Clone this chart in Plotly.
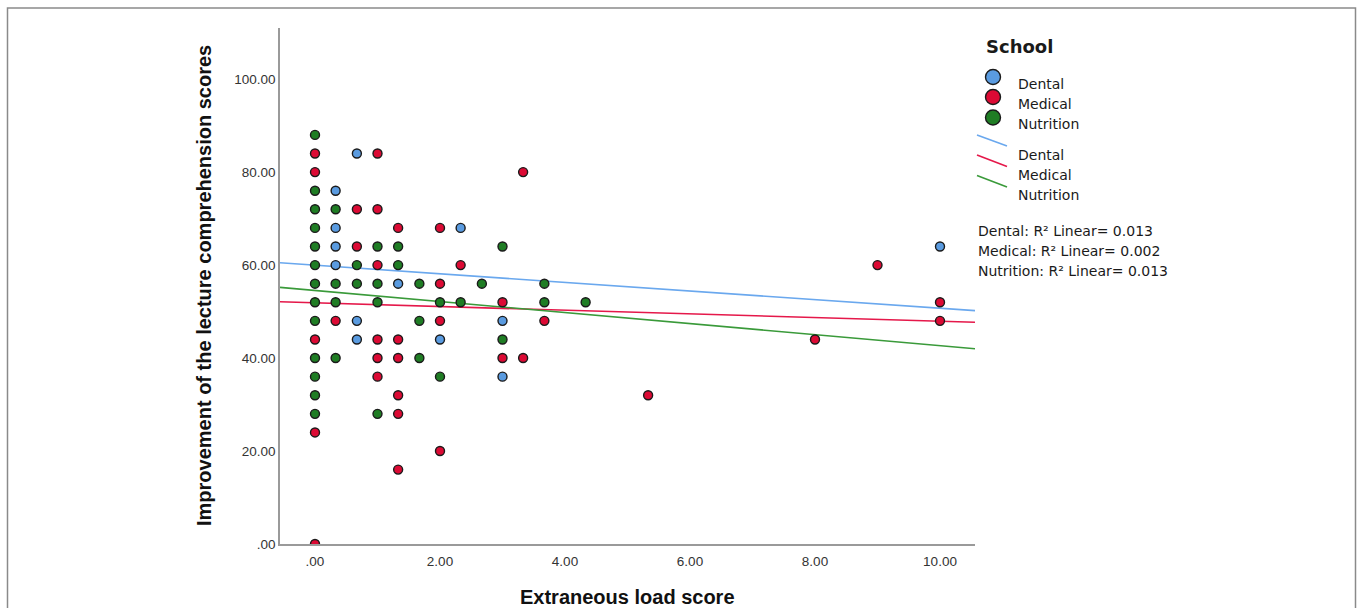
import plotly.graph_objects as go

# ---------------- data ----------------
dental_x = [0.67, 0.33, 0.33, 2.33, 0.33, 0.33, 1.33, 0.67, 3.0, 0.67, 2.0, 3.0, 10.0]
dental_y = [84, 76, 68, 68, 64, 60, 56, 48, 48, 44, 44, 36, 64]

medical_x = [0, 1, 0, 3.33, 0.67, 1, 1.33, 2, 0.67, 1, 2.33, 2, 3, 10, 0.33, 2, 3.67, 10,
             0, 1, 1.33, 8, 1, 1.33, 3, 3.33, 1, 1.33, 5.33, 1.33, 0, 2, 1.33, 0, 9]
medical_y = [84, 84, 80, 80, 72, 72, 68, 68, 64, 60, 60, 56, 52, 52, 48, 48, 48, 48,
             44, 44, 44, 44, 40, 40, 40, 40, 36, 32, 32, 28, 24, 20, 16, 0, 60]

nutrition_x = [0, 0, 0, 0.33, 0, 0, 1, 1.33, 3, 0, 0.67, 1.33, 0, 0.33, 0.67, 1, 1.67, 2.67,
               3.67, 0, 0.33, 1, 2, 2.33, 3.67, 4.33, 0, 1.67, 3, 0, 0.33, 1.67, 0, 2, 0, 0, 1]
nutrition_y = [88, 76, 72, 72, 68, 64, 64, 64, 64, 60, 60, 60, 56, 56, 56, 56, 56, 56,
               56, 52, 52, 52, 52, 52, 52, 52, 48, 48, 44, 40, 40, 40, 36, 36, 32, 28, 28]

# fit lines (values read at the two ends of the x axis)
fit_x = [-0.56, 10.56]
dental_fit = [60.5, 50.2]
medical_fit = [52.1, 47.7]
nutrition_fit = [55.2, 42.0]

schools = ["Dental", "Medical", "Nutrition"]
r2_values = ["0.013", "0.002", "0.013"]

x_ticks = [0, 2, 4, 6, 8, 10]
x_tick_labels = [".00", "2.00", "4.00", "6.00", "8.00", "10.00"]
y_ticks = [0, 20, 40, 60, 80, 100]
y_tick_labels = [".00", "20.00", "40.00", "60.00", "80.00", "100.00"]

# ---------------- style ----------------
point_colors = {"Dental": "#5A9BE0", "Medical": "#DC0A34", "Nutrition": "#1F7D24"}
line_colors = {"Dental": "#6AA8EE", "Medical": "#E5184A", "Nutrition": "#3A9A3A"}
W, H = 1358, 608
L, R, T, B = 280, 975, 28, 544  # plot area in pixels


def px(xp):
    return (xp - L) / (R - L)


def py(yp):
    return (B - yp) / (B - T)


fig = go.Figure()
pts = {"Dental": (dental_x, dental_y), "Medical": (medical_x, medical_y),
       "Nutrition": (nutrition_x, nutrition_y)}
fits = {"Dental": dental_fit, "Medical": medical_fit, "Nutrition": nutrition_fit}

for s in schools:
    fig.add_trace(go.Scatter(x=fit_x, y=fits[s], mode="lines",
                             line=dict(color=line_colors[s], width=1.6),
                             showlegend=False, hoverinfo="skip"))
for s in schools:
    xs, ys = pts[s]
    fig.add_trace(go.Scatter(x=xs, y=ys, mode="markers", name=s,
                             marker=dict(size=9, color=point_colors[s],
                                         line=dict(color="#1a1a1a", width=1.4)),
                             showlegend=False))

axis_font = dict(family="Liberation Sans, Arial, sans-serif", size=13.5, color="#333333")
fig.update_xaxes(range=fit_x, tickvals=x_ticks, ticktext=x_tick_labels,
                 showgrid=False, zeroline=False, showline=True, linecolor="#9a9a9a",
                 linewidth=1.6, ticks="outside", ticklen=4, tickcolor="rgba(0,0,0,0)",
                 tickfont=axis_font)
fig.update_yaxes(range=[0, 111], tickvals=y_ticks, ticktext=y_tick_labels,
                 showgrid=False, zeroline=False, showline=True, linecolor="#9a9a9a",
                 linewidth=1.6, ticks="", tickfont=axis_font)

shapes = []
annotations = []
legend_family = "DejaVu Sans, Verdana, sans-serif"
legend_font = dict(family=legend_family, size=14, color="#1a1a1a")

# outer frame
shapes.append(dict(type="rect", xref="paper", yref="paper",
                   x0=px(7.5), x1=px(1355.5), y0=py(640), y1=py(8),
                   line=dict(color="#8a8a8a", width=1.5), fillcolor="rgba(0,0,0,0)",
                   layer="below"))

# legend title
annotations.append(dict(text="<b>School</b>", xref="paper", yref="paper",
                        x=px(984), y=py(47), xanchor="left", yanchor="middle",
                        showarrow=False,
                        font=dict(family=legend_family, size=18, color="#1a1a1a")))
marker_rows = [77, 97, 117.5]
label_rows1 = [84, 104, 124]
line_rows = [(135, 146), (155, 166.5), (175.5, 187)]
label_rows2 = [155, 175, 195]
for i, s in enumerate(schools):
    shapes.append(dict(type="circle", xref="paper", yref="paper",
                       xsizemode="pixel", ysizemode="pixel",
                       xanchor=px(993), yanchor=py(marker_rows[i]),
                       x0=-7.5, x1=7.5, y0=-7.5, y1=7.5,
                       fillcolor=point_colors[s], line=dict(color="#1a1a1a", width=1.4)))
    annotations.append(dict(text=s, xref="paper", yref="paper", x=px(1016), y=py(label_rows1[i]),
                            xanchor="left", yanchor="middle", showarrow=False, font=legend_font))
    y0, y1 = line_rows[i]
    shapes.append(dict(type="line", xref="paper", yref="paper",
                       x0=px(977), x1=px(1007), y0=py(y0), y1=py(y1),
                       line=dict(color=line_colors[s], width=1.6)))
    annotations.append(dict(text=s, xref="paper", yref="paper", x=px(1016), y=py(label_rows2[i]),
                            xanchor="left", yanchor="middle", showarrow=False, font=legend_font))
    annotations.append(dict(text=f"{s}: R² Linear= {r2_values[i]}", xref="paper", yref="paper",
                            x=px(976), y=py(231 + 20 * i), xanchor="left", yanchor="middle",
                            showarrow=False, font=legend_font))

# axis titles
title_font = dict(family="Liberation Sans, Arial, sans-serif", size=20, color="#111111")
annotations.append(dict(text="<b>Extraneous load score</b>", xref="paper", yref="paper",
                        x=px(627), y=py(597), xanchor="center", yanchor="middle",
                        showarrow=False, font=title_font))
annotations.append(dict(text="<b>Improvement of the lecture comprehension scores</b>",
                        xref="paper", yref="paper", x=px(204), y=py(286), textangle=-90,
                        xanchor="center", yanchor="middle", showarrow=False, font=title_font))

fig.update_layout(width=W, height=H, margin=dict(l=L, r=W - R, t=T, b=H - B),
                  paper_bgcolor="white", plot_bgcolor="white",
                  shapes=shapes, annotations=annotations, showlegend=False)

fig.write_html("out.html")
